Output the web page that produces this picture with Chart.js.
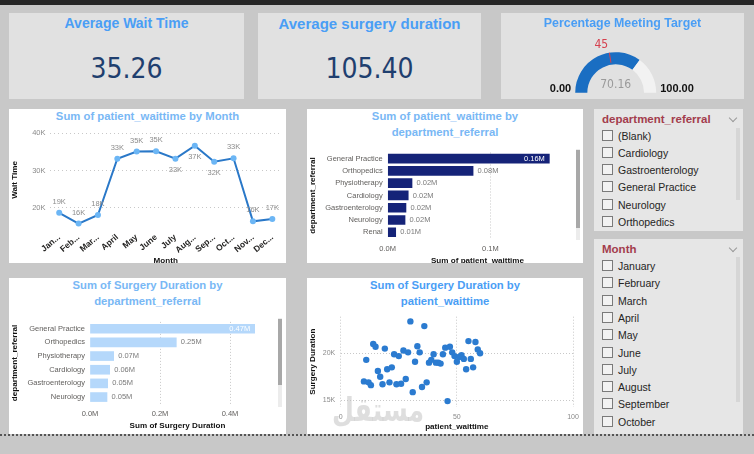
<!DOCTYPE html>
<html>
<head>
<meta charset="utf-8">
<script src="https://cdn.jsdelivr.net/npm/chart.js@4.4.0/dist/chart.umd.min.js"></script>
<style>
  body { margin: 0; width: 754px; height: 454px; background: #c8c8c8; position: relative; overflow: hidden; font-family: 'Liberation Sans', Arial, sans-serif; }
  .topbar { position: absolute; left: 0; top: 0; width: 754px; height: 5px; background: #262626; }
  .card { position: absolute; top: 13px; height: 86px; background: #e1e1e1; }
  .kpi-title { position: absolute; left: 0; right: 0; text-align: center; color: #4a9ef5; font-weight: bold; white-space: nowrap; }
  .kpi-value { position: absolute; left: 0; right: 0; top: 39px; text-align: center; color: #1f3f6f; font-size: 28px; font-family: 'Liberation Sans Narrow', 'DejaVu Sans Condensed', sans-serif; }
  .panel { position: absolute; background: #fff; overflow: hidden; }
  .ptitle { position: absolute; left: 0; right: 0; top: 0; text-align: center; color: #79b8f5; font-weight: bold; font-size: 11.3px; line-height: 15.6px; }
  .panel canvas, .card canvas { position: absolute; left: 0; }
  .scroll { position: absolute; width: 4px; background: #ececec; }
  .thumb { position: absolute; left: 0; width: 4px; background: #a8a8a8; }
  .slicer { position: absolute; left: 594px; width: 149px; background: #e6e6e6; }
  .slicer .stitle { position: absolute; left: 8px; top: 4px; color: #a33d4d; font-weight: bold; font-size: 11.5px; }
  .slicer .chev { position: absolute; left: 136px; width: 5px; height: 5px; border-right: 1px solid #9a9a9a; border-bottom: 1px solid #9a9a9a; transform: rotate(45deg); }
  .slicer .item { position: absolute; left: 8px; height: 12px; font-size: 10.5px; color: #252423; line-height: 12px; white-space: nowrap; }
  .slicer .box { display: inline-block; width: 9px; height: 9px; border: 1px solid #7a7a7a; background: #f2f2f2; vertical-align: -1px; margin-right: 5px; }
  .slicer .strack { position: absolute; left: 142px; width: 4px; background: #d6d6d6; }
  .dots { position: absolute; left: 0; top: 434px; width: 754px; height: 2px; background: repeating-linear-gradient(90deg, #555 0 2px, transparent 2px 4px); }
  .mark { position: absolute; left: 25px; top: 112px; font-family: 'DejaVu Sans', sans-serif; font-weight: bold; font-size: 30px; color: rgba(190,190,190,0.5); pointer-events: none; transform: scale(0.84, 1.1); transform-origin: left top; }
</style>
</head>
<body>
<div class="topbar"></div>

<div class="card" style="left:9px;width:235px">
  <div class="kpi-title" style="top:2px;font-size:14px">Average Wait Time</div>
  <div class="kpi-value" id="kpiWait"></div>
</div>
<div class="card" style="left:258px;width:223px">
  <div class="kpi-title" style="top:2px;font-size:15px">Average surgery duration</div>
  <div class="kpi-value" id="kpiSurgery"></div>
</div>
<div class="card" style="left:501px;width:243px">
  <canvas id="gauge" width="243" height="86" style="top:0"></canvas>
  <div class="kpi-title" style="top:2.5px;font-size:12.4px">Percentage Meeting Target</div>
</div>

<div class="panel" style="left:9px;top:109px;width:277px;height:154px">
  <div class="ptitle">Sum of patient_waittime by Month</div>
  <canvas id="lineMonth" width="277" height="150" style="top:16px"></canvas>
</div>

<div class="panel" style="left:307px;top:109px;width:276px;height:154px">
  <div class="ptitle">Sum of patient_waittime by<br>department_referral</div>
  <canvas id="barWait" width="276" height="130" style="top:31px"></canvas>
  <div class="scroll" style="left:269px;top:40px;height:91px"><div class="thumb" style="top:1px;height:78px"></div></div>
</div>

<div class="panel" style="left:9px;top:278px;width:277px;height:156px">
  <div class="ptitle">Sum of Surgery Duration by<br>department_referral</div>
  <canvas id="barSurgery" width="277" height="125" style="top:31px"></canvas>
  <div class="scroll" style="left:269px;top:40px;height:89px"><div class="thumb" style="top:1px;height:66px"></div></div>
</div>

<div class="panel" style="left:307px;top:278px;width:276px;height:156px">
  <div class="ptitle" style="color:#4a9ef5">Sum of Surgery Duration by<br>patient_waittime</div>
  <canvas id="scatter" width="276" height="128" style="top:28px"></canvas>
  <div class="mark">مستقل</div>
</div>

<div class="slicer" style="top:109px;height:122px" id="slicerDept">
  <div class="stitle">department_referral</div>
  <div class="chev" style="top:6px"></div>
  <div class="strack" style="top:19px;height:72px"></div>
</div>
<div class="slicer" style="top:239px;height:195px" id="slicerMonth">
  <div class="stitle">Month</div>
  <div class="chev" style="top:6px"></div>
  <div class="strack" style="top:18px;height:145px"></div>
</div>

<div class="dots"></div>

<script>
// KPI values
const avgWaitTime = 35.26;
const avgSurgeryDuration = 105.40;
const pctMeetingTarget = 70.16;
const gaugeTarget = 45;
const gaugeMin = 0;
const gaugeMax = 100;

// Sum of patient_waittime by Month
const monthTicks = ['Jan...', 'Feb...', 'Mar...', 'April', 'May', 'June', 'July', 'Aug...', 'Sep...', 'Oct...', 'Nov...', 'Dec...'];
const waitByMonth = [18700, 15800, 18100, 33200, 35100, 35200, 33200, 36700, 32400, 33300, 16400, 17000];

// Sum of patient_waittime by department_referral
const deptWait = ['General Practice', 'Orthopedics', 'Physiotherapy', 'Cardiology', 'Gastroenterology', 'Neurology', 'Renal'];
const waitByDept = [157500, 83200, 23700, 20000, 17800, 16900, 7800];

// Sum of Surgery Duration by department_referral (visible rows)
const deptSurgery = ['General Practice', 'Orthopedics', 'Physiotherapy', 'Cardiology', 'Gastroenterology', 'Neurology'];
const surgeryByDept = [470500, 246600, 67600, 56200, 50500, 48600];

// Sum of Surgery Duration by patient_waittime
const scatterWait = [10, 11, 12, 13, 14, 15, 16, 17, 18, 19, 20, 21, 22, 23, 24, 25, 26, 27, 28, 29, 30, 31, 32, 33, 34, 35,
  36, 37, 38, 39, 40, 41, 42, 43, 44, 45, 46, 47, 48, 49, 50, 51, 52, 53, 54, 55, 56, 57, 58, 59, 60];
const scatterSurgery = [17000, 19300, 16900, 16600, 21000, 20700, 18100, 17500, 16700, 20500, 18300, 16900, 18500, 19900,
  16700, 19700, 16750, 20300, 17250, 20100, 23400, 15850, 19100, 20750, 20100, 16400, 22900, 16900, 19000, 19300, 19900,
  19000, 19000, 18900, 19900, 20600, 14900, 20700, 20100, 19700, 19100, 19600, 19800, 19400, 18300, 21300, 19400, 18500,
  21200, 20400, 20000];

// slicer entries
const deptSlicer = ['(Blank)', 'Cardiology', 'Gastroenterology', 'General Practice', 'Neurology', 'Orthopedics'];
const monthSlicer = ['January', 'February', 'March', 'April', 'May', 'June', 'July', 'August', 'September', 'October'];

Chart.defaults.font.family = "'Liberation Sans', Arial, sans-serif";
Chart.defaults.animation = false;
Chart.defaults.plugins.legend.display = false;
Chart.defaults.plugins.tooltip.enabled = false;

document.getElementById('kpiWait').textContent = avgWaitTime.toFixed(2);
document.getElementById('kpiSurgery').textContent = avgSurgeryDuration.toFixed(2);

function fillSlicer(id, items, firstY) {
  const el = document.getElementById(id);
  items.forEach((txt, i) => {
    const d = document.createElement('div');
    d.className = 'item';
    d.style.top = (firstY + i * 17.3 - 6) + 'px';
    d.innerHTML = '<span class="box"></span>' + txt;
    el.appendChild(d);
  });
}
fillSlicer('slicerDept', deptSlicer, 26.5);
fillSlicer('slicerMonth', monthSlicer, 27);

// fixes the size of an axis box so the plot area lands where we want
function fixSize(prop, size) {
  return s => {
    s[prop] = size;
    s.paddingTop = 0; s.paddingBottom = 0; s.paddingLeft = 0; s.paddingRight = 0;
  };
}
const axisTitleFont = { size: 8.1, weight: 'bold' };
const tickGrey = '#605e5c';

// gauge
const gaugeText = {
  id: 'gaugeText',
  afterDraw(chart) {
    const arc = chart.getDatasetMeta(0).data[0];
    const { x, y, outerRadius, innerRadius } = arc;
    const ctx = chart.ctx;
    ctx.save();
    const a = Math.PI + Math.PI * (gaugeTarget - gaugeMin) / (gaugeMax - gaugeMin);
    const px = x + Math.cos(a) * outerRadius, py = y + Math.sin(a) * outerRadius;
    ctx.strokeStyle = '#d6404e';
    ctx.lineWidth = 1;
    ctx.beginPath();
    ctx.moveTo(x + Math.cos(a) * (innerRadius + 2), y + Math.sin(a) * (innerRadius + 2));
    ctx.lineTo(px, py);
    ctx.stroke();
    ctx.textBaseline = 'middle';
    ctx.textAlign = 'center';
    ctx.font = "12px 'Liberation Sans Narrow', 'DejaVu Sans Condensed', sans-serif";
    ctx.fillStyle = '#d6404e';
    ctx.fillText(String(gaugeTarget), px - 8, py - 8);
    ctx.fillStyle = '#9a9a9a';
    ctx.fillText(pctMeetingTarget.toFixed(2), x, y - 7.7);
    ctx.font = "bold 11px 'Liberation Sans', Arial, sans-serif";
    ctx.fillStyle = '#111';
    ctx.textAlign = 'right';
    ctx.fillText(gaugeMin.toFixed(2), x - outerRadius - 4, y - 3.4);
    ctx.textAlign = 'left';
    ctx.fillText(gaugeMax.toFixed(2), x + outerRadius + 4, y - 3.4);
    ctx.restore();
  }
};

new Chart(document.getElementById('gauge'), {
  type: 'doughnut',
  data: {
    datasets: [{
      data: [pctMeetingTarget - gaugeMin, gaugeMax - pctMeetingTarget],
      backgroundColor: ['#1a6ec2', '#f2f2f2'],
      borderWidth: 0
    }]
  },
  options: {
    responsive: false,
    rotation: -90,
    circumference: 180,
    cutout: '70%',
    layout: { padding: { left: 74.2, right: 87.8, top: 39.2, bottom: 6.3 } }
  },
  plugins: [gaugeText]
});

// line chart
const lineBelow = [6, 7, 8];
const lineLabels = {
  id: 'lineLabels',
  afterDatasetsDraw(chart) {
    const ctx = chart.ctx;
    const meta = chart.getDatasetMeta(0);
    ctx.save();
    ctx.font = "7.5px 'Liberation Sans', Arial, sans-serif";
    ctx.fillStyle = '#8c8c8c';
    ctx.textAlign = 'center';
    ctx.textBaseline = 'middle';
    meta.data.forEach((pt, i) => {
      const txt = Math.round(waitByMonth[i] / 1000) + 'K';
      ctx.fillText(txt, pt.x, pt.y + (lineBelow.includes(i) ? 11 : -11));
    });
    ctx.restore();
  }
};

new Chart(document.getElementById('lineMonth'), {
  type: 'line',
  data: {
    labels: monthTicks,
    datasets: [{
      data: waitByMonth,
      borderColor: '#2a78c8',
      borderWidth: 2,
      pointRadius: 3,
      pointBackgroundColor: '#6cb6f5',
      pointBorderWidth: 0,
      tension: 0
    }]
  },
  options: {
    responsive: false,
    layout: { padding: { left: 0, right: 2, top: 4.6, bottom: 8.9 } },
    scales: {
      x: {
        offset: true,
        afterFit: fixSize('height', 35.8),
        grid: { display: false, drawTicks: false },
        border: { display: false },
        ticks: { minRotation: 40, maxRotation: 40, autoSkip: false, padding: 2, color: '#252423', font: { size: 8.5, weight: 'bold' } },
        title: { display: true, text: 'Month', color: '#111', font: axisTitleFont, padding: { top: 0, bottom: 0 } }
      },
      y: {
        min: 14000,
        max: 41000,
        afterBuildTicks: s => { s.ticks = [20000, 30000, 40000].map(v => ({ value: v })); },
        afterFit: fixSize('width', 40.5),
        grid: { color: '#c8c8c8', drawTicks: false },
        border: { display: false, dash: [1, 3] },
        ticks: { padding: 4, color: '#8a8a8a', font: { size: 7.5 }, callback: v => (v / 1000) + 'K' },
        title: { display: true, text: 'Wait Time', color: '#111', font: axisTitleFont, padding: { top: 1, bottom: 0 } }
      }
    }
  },
  plugins: [lineLabels]
});

// data labels for the horizontal bars
const barLabels = {
  id: 'barLabels',
  afterDatasetsDraw(chart) {
    const ctx = chart.ctx;
    const meta = chart.getDatasetMeta(0);
    const vals = chart.data.datasets[0].data;
    ctx.save();
    ctx.font = "7.5px 'Liberation Sans', Arial, sans-serif";
    ctx.textBaseline = 'middle';
    meta.data.forEach((bar, i) => {
      const txt = (vals[i] / 1e6).toFixed(2) + 'M';
      const w = ctx.measureText(txt).width;
      if (bar.x + 4 + w > chart.chartArea.right) {
        ctx.fillStyle = '#fff';
        ctx.textAlign = 'right';
        ctx.fillText(txt, bar.x - 4.5, bar.y);
      } else {
        ctx.fillStyle = '#7a7a7a';
        ctx.textAlign = 'left';
        ctx.fillText(txt, bar.x + 4.5, bar.y);
      }
    });
    ctx.restore();
  }
};

function barOptions(xMax, xTicks, xTitle, pad, yWidth, xHeight) {
  return {
    indexAxis: 'y',
    responsive: false,
    layout: { padding: pad },
    scales: {
      x: {
        min: 0,
        max: xMax,
        afterBuildTicks: s => { s.ticks = xTicks.map(v => ({ value: v })); },
        afterFit: fixSize('height', xHeight),
        grid: { color: c => (c.tick && c.tick.value === 0 ? 'rgba(0,0,0,0)' : '#c8c8c8'), drawTicks: false },
        border: { display: false, dash: [1, 2] },
        ticks: { padding: 6, color: tickGrey, font: { size: 7.5 }, callback: v => (v / 1e6).toFixed(1) + 'M' },
        title: { display: true, text: xTitle, color: '#111', font: axisTitleFont, padding: { top: 0, bottom: 0 } }
      },
      y: {
        afterFit: fixSize('width', yWidth),
        grid: { display: false, drawTicks: false },
        border: { display: false },
        ticks: { padding: 5, color: tickGrey, font: { size: 7.5 } },
        title: { display: true, text: 'department_referral', color: '#111', font: axisTitleFont, padding: { top: 1, bottom: 0 } }
      }
    }
  };
}

new Chart(document.getElementById('barWait'), {
  type: 'bar',
  data: {
    labels: deptWait,
    datasets: [{ data: waitByDept, backgroundColor: '#152378', barThickness: 9 }]
  },
  options: barOptions(175000, [0, 100000], 'Sum of patient_waittime',
    { left: 0, right: 15.7, top: 12.5, bottom: 3.9 }, 80.7, 27.7),
  plugins: [barLabels]
});

new Chart(document.getElementById('barSurgery'), {
  type: 'bar',
  data: {
    labels: deptSurgery,
    datasets: [{ data: surgeryByDept, backgroundColor: '#b5d8fb', barThickness: 9 }]
  },
  options: barOptions(500000, [0, 200000, 400000], 'Sum of Surgery Duration',
    { left: 0, right: 21, top: 12.9, bottom: 2.9 }, 81, 27.2),
  plugins: [barLabels]
});

// scatter
new Chart(document.getElementById('scatter'), {
  type: 'scatter',
  data: {
    datasets: [{
      data: scatterWait.map((w, i) => ({ x: w, y: scatterSurgery[i] })),
      backgroundColor: '#2b7bd0',
      pointRadius: 3.2,
      pointBorderWidth: 0
    }]
  },
  options: {
    responsive: false,
    layout: { padding: { left: 0, right: 10, top: 10.7, bottom: 2.2 } },
    scales: {
      x: {
        min: 0,
        max: 100,
        afterBuildTicks: s => { s.ticks = [0, 50, 100].map(v => ({ value: v })); },
        afterFit: fixSize('height', 25.1),
        grid: { color: '#c8c8c8', drawTicks: false },
        border: { display: false, dash: [1, 2] },
        ticks: { padding: 6, color: '#8a8a8a', font: { size: 7 } },
        title: { display: true, text: 'patient_waittime', color: '#111', font: axisTitleFont, padding: { top: 0, bottom: 0 } }
      },
      y: {
        min: 14300,
        max: 23900,
        afterBuildTicks: s => { s.ticks = [15000, 20000].map(v => ({ value: v })); },
        afterFit: fixSize('width', 33.7),
        grid: { color: '#c8c8c8', drawTicks: false },
        border: { display: false, dash: [1, 2] },
        ticks: { padding: 5.5, color: '#8a8a8a', font: { size: 7 }, callback: v => (v / 1000) + 'K' },
        title: { display: true, text: 'Surgery Duration', color: '#111', font: axisTitleFont, padding: { top: 0.5, bottom: 0 } }
      }
    }
  }
});
</script>
</body>
</html>
